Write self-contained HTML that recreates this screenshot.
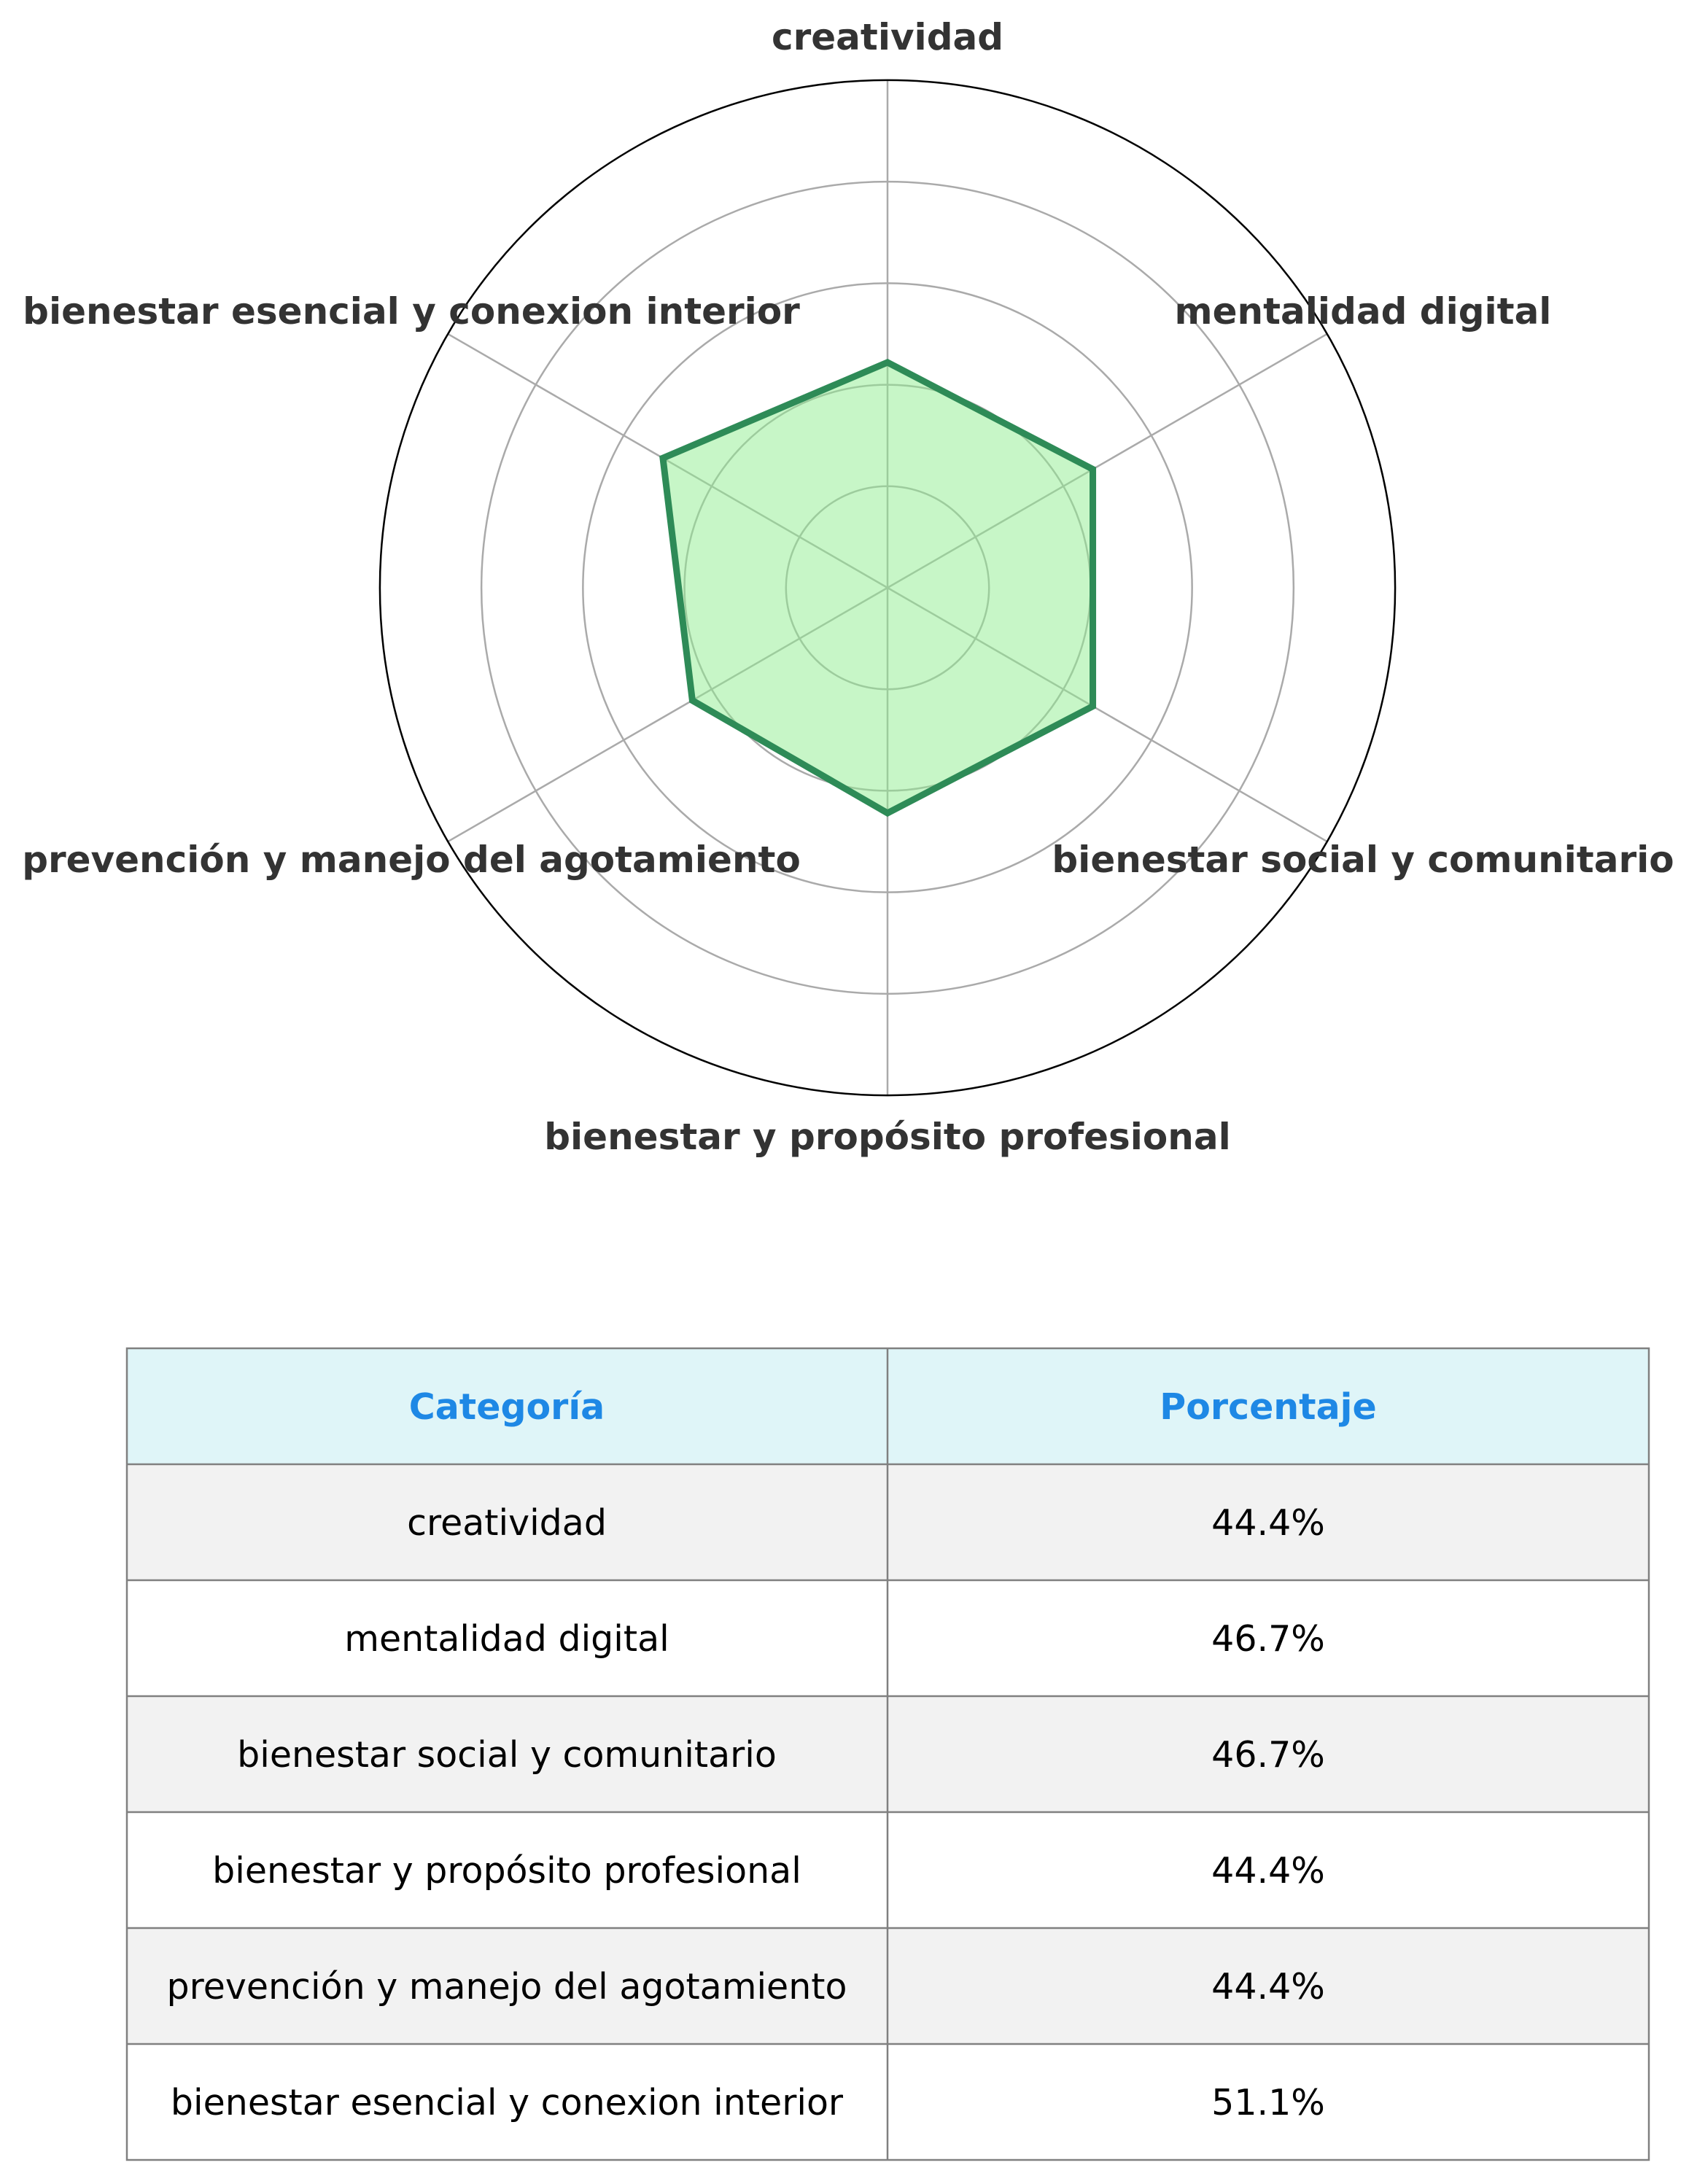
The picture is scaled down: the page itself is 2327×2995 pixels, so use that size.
<!DOCTYPE html>
<html><head><meta charset="utf-8"><style>html,body{margin:0;padding:0;background:#fff}svg{display:block}</style></head>
<body>
<svg width="2327" height="2995" viewBox="0 0 2327 2995" xmlns="http://www.w3.org/2000/svg" font-family="DejaVu Sans, Liberation Sans, sans-serif">
<rect width="2327" height="2995" fill="#fff"/>
<g transform="translate(1217,806) scale(1.003) translate(-1215,-805)">
<g fill="none" stroke="#aaaaaa" stroke-width="2.5">
<circle cx="1215" cy="805" r="138.8"/>
<circle cx="1215" cy="805" r="277.6"/>
<circle cx="1215" cy="805" r="416.4"/>
<circle cx="1215" cy="805" r="555.2"/>
<line x1="1215" y1="805" x2="1215" y2="111"/>
<line x1="1215" y1="805" x2="1215" y2="1499"/>
<line x1="1215" y1="805" x2="1816" y2="458"/>
<line x1="1215" y1="805" x2="1816" y2="1152"/>
<line x1="1215" y1="805" x2="614" y2="458"/>
<line x1="1215" y1="805" x2="614" y2="1152"/>
</g>
<polygon points="1215,496.9 1495.7,643 1495.7,967 1215,1113.1 948.2,959.1 907.9,627.7" fill="#90ee90" fill-opacity="0.5" stroke="#2e8b57" stroke-width="9" stroke-linejoin="miter"/>
<circle cx="1215" cy="805" r="694" fill="none" stroke="#000" stroke-width="2.5"/>
</g>
<g font-weight="bold" font-size="50" fill="#333">
<text x="1217" y="68" text-anchor="middle">creatividad</text>
<text x="1869" y="444" text-anchor="middle">mentalidad digital</text>
<text x="564" y="444" text-anchor="middle">bienestar esencial y conexion interior</text>
<text x="564" y="1196" text-anchor="middle">prevención y manejo del agotamiento</text>
<text x="1869" y="1196" text-anchor="middle">bienestar social y comunitario</text>
<text x="1217" y="1576" text-anchor="middle">bienestar y propósito profesional</text>
</g>
<rect x="174" y="1849" width="2087" height="159" fill="#dff5f8"/>
<rect x="174" y="2008" width="2087" height="159" fill="#f2f2f2"/>
<rect x="174" y="2326" width="2087" height="159" fill="#f2f2f2"/>
<rect x="174" y="2644" width="2087" height="159" fill="#f2f2f2"/>
<g stroke="#808080" stroke-width="2.5" fill="none">
<rect x="174" y="1849" width="2087" height="1113"/>
<line x1="1217" y1="1849" x2="1217" y2="2962"/>
<line x1="174" y1="2008" x2="2261" y2="2008"/>
<line x1="174" y1="2167" x2="2261" y2="2167"/>
<line x1="174" y1="2326" x2="2261" y2="2326"/>
<line x1="174" y1="2485" x2="2261" y2="2485"/>
<line x1="174" y1="2644" x2="2261" y2="2644"/>
<line x1="174" y1="2803" x2="2261" y2="2803"/>
</g>
<g font-weight="bold" font-size="49" fill="#1e88e5" text-anchor="middle">
<text x="695" y="1946">Categoría</text>
<text x="1739" y="1946">Porcentaje</text>
</g>
<g font-size="49" fill="#000" text-anchor="middle">
<text x="695" y="2105">creatividad</text><text x="1739" y="2105">44.4%</text>
<text x="695" y="2264">mentalidad digital</text><text x="1739" y="2264">46.7%</text>
<text x="695" y="2423">bienestar social y comunitario</text><text x="1739" y="2423">46.7%</text>
<text x="695" y="2582">bienestar y propósito profesional</text><text x="1739" y="2582">44.4%</text>
<text x="695" y="2741">prevención y manejo del agotamiento</text><text x="1739" y="2741">44.4%</text>
<text x="695" y="2900">bienestar esencial y conexion interior</text><text x="1739" y="2900">51.1%</text>
</g>
</svg>
</body></html>
